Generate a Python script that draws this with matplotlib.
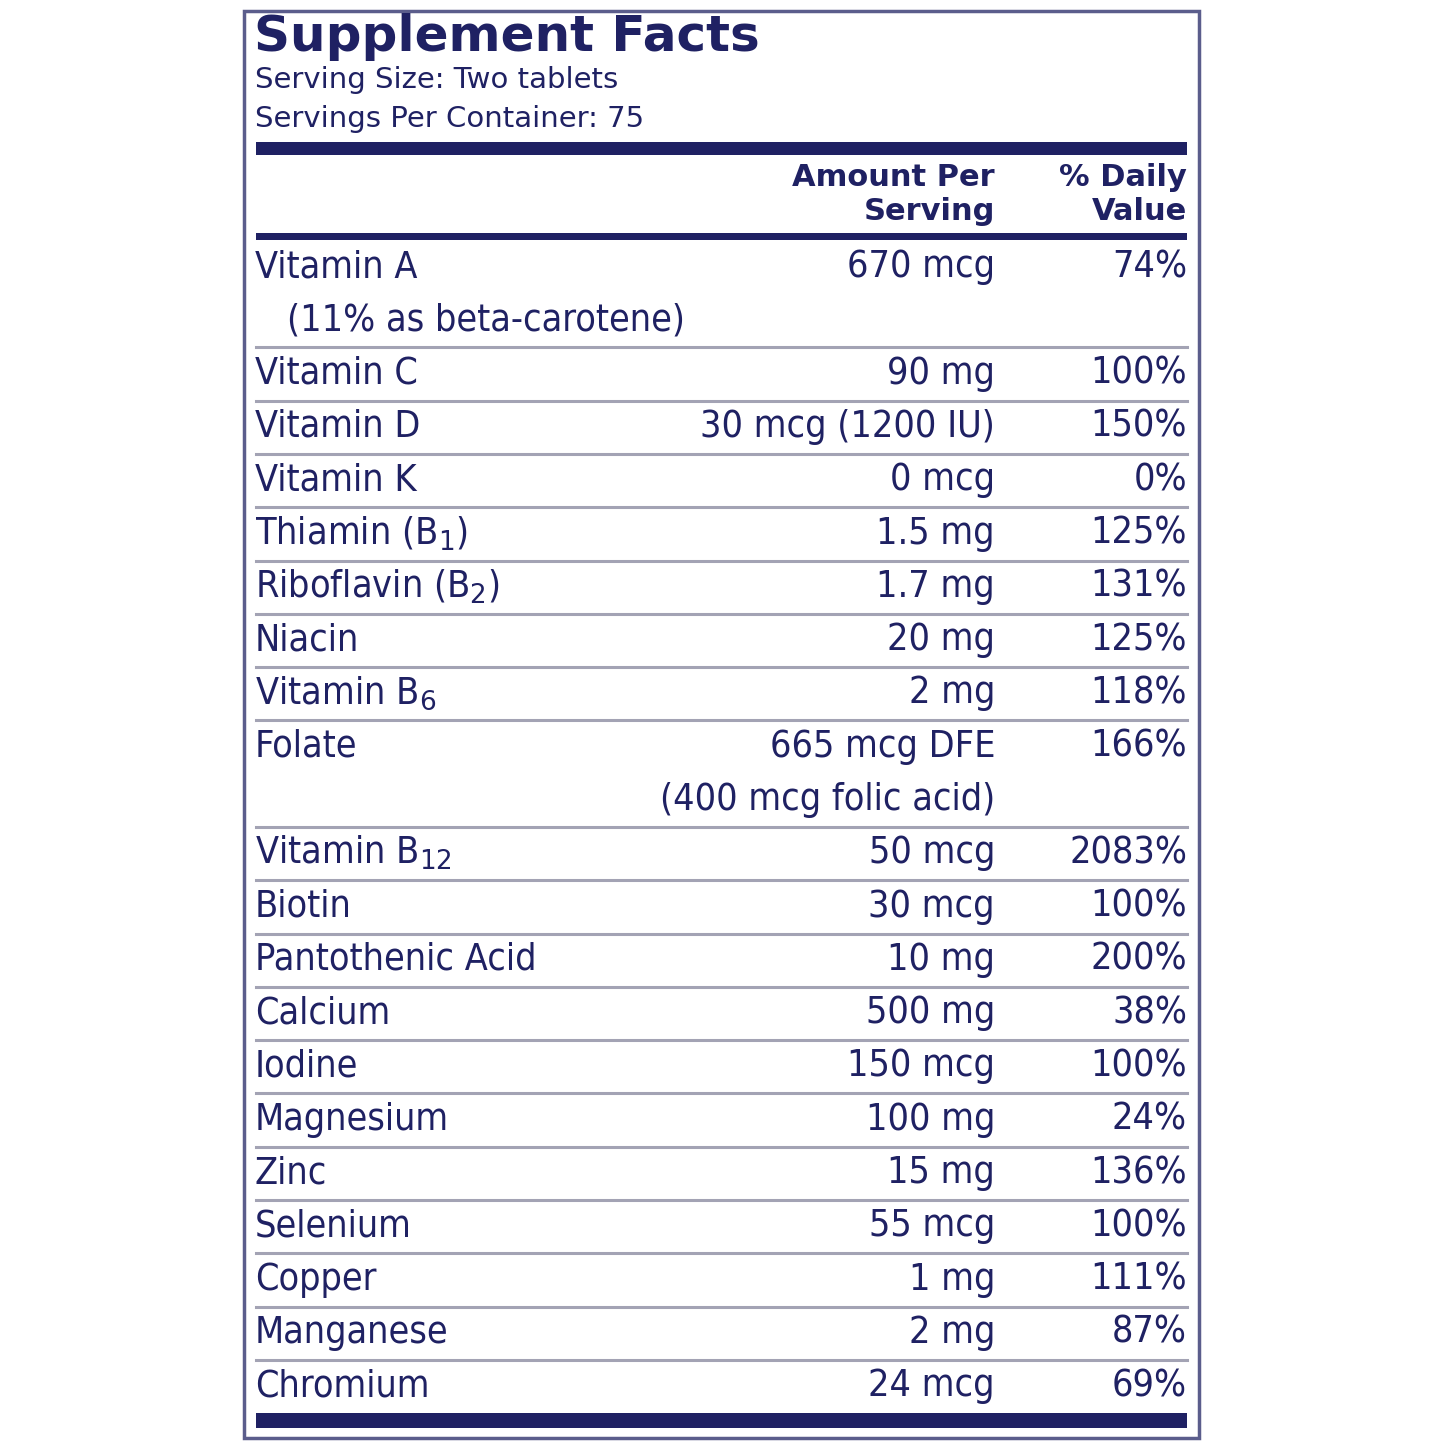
import matplotlib.pyplot as plt
from matplotlib.patches import Rectangle

navy = '#1f2163'
grey = '#a3a3b4'

title = 'Supplement Facts'
serving_size = 'Serving Size: Two tablets'
servings = 'Servings Per Container: 75'

nutrients = ['Vitamin A', 'Vitamin C', 'Vitamin D', 'Vitamin K', 'Thiamin (B$_1$)',
             'Riboflavin (B$_2$)', 'Niacin', 'Vitamin B$_6$', 'Folate', 'Vitamin B$_{12}$',
             'Biotin', 'Pantothenic Acid', 'Calcium', 'Iodine', 'Magnesium', 'Zinc',
             'Selenium', 'Copper', 'Manganese', 'Chromium']
amounts = ['670 mcg', '90 mg', '30 mcg (1200 IU)', '0 mcg', '1.5 mg', '1.7 mg', '20 mg',
           '2 mg', '665 mcg DFE', '50 mcg', '30 mcg', '10 mg', '500 mg', '150 mcg',
           '100 mg', '15 mg', '55 mcg', '1 mg', '2 mg', '24 mcg']
daily = ['74%', '100%', '150%', '0%', '125%', '131%', '125%', '118%', '166%', '2083%',
         '100%', '200%', '38%', '100%', '24%', '136%', '100%', '111%', '87%', '69%']
name_extra = {'Vitamin A': '(11% as beta-carotene)'}
amount_extra = {'Folate': '(400 mcg folic acid)'}

fig = plt.figure(figsize=(14.45, 14.45), dpi=100)
ax = fig.add_axes([0, 0, 1, 1])
ax.set_xlim(0, 1445)
ax.set_ylim(1445, 0)
ax.axis('off')

# outer box and rules
ax.add_patch(Rectangle((244, 11), 955, 1427, fill=False, ec='#5b5d8c', lw=2.5))
ax.add_patch(Rectangle((256, 142), 931, 13, color=navy, lw=0))
ax.add_patch(Rectangle((256, 233), 931, 7, color=navy, lw=0))
ax.add_patch(Rectangle((256, 1413), 931, 15, color=navy, lw=0))

ax.text(254, 37, title, fontsize=36, fontweight='heavy', color=navy, va='center',
        family='DejaVu Sans')
ax.text(255, 80, serving_size, fontsize=21, color=navy, va='center', family='DejaVu Sans')
ax.text(255, 119, servings, fontsize=21, color=navy, va='center', family='DejaVu Sans')
for txt, y in [('Amount Per', 177), ('Serving', 211)]:
    ax.text(995, y, txt, fontsize=22, fontweight='heavy', ha='right', va='center',
            color=navy, family='DejaVu Sans')
for txt, y in [('% Daily', 177), ('Value', 211)]:
    ax.text(1187, y, txt, fontsize=22, fontweight='heavy', ha='right', va='center',
            color=navy, family='DejaVu Sans')

fam = ['Liberation Sans Narrow', 'DejaVu Sans']
kw = dict(fontsize=27, color=navy, va='center', family=fam, fontstretch='condensed')
step = 53.3
y = 267
for i, (n, a, d) in enumerate(zip(nutrients, amounts, daily)):
    ax.text(255, y, n, **kw)
    ax.text(995, y, a, ha='right', **kw)
    ax.text(1187, y, d, ha='right', **kw)
    if n in name_extra or n in amount_extra:
        y += step
        if n in name_extra:
            ax.text(287, y, name_extra[n], **kw)
        if n in amount_extra:
            ax.text(995, y, amount_extra[n], ha='right', **kw)
    if i < len(nutrients) - 1:
        ax.plot([256, 1187], [y + 27, y + 27], color=grey, lw=2.2)
    y += step

fig.savefig('out.png', dpi=100, facecolor='white')
